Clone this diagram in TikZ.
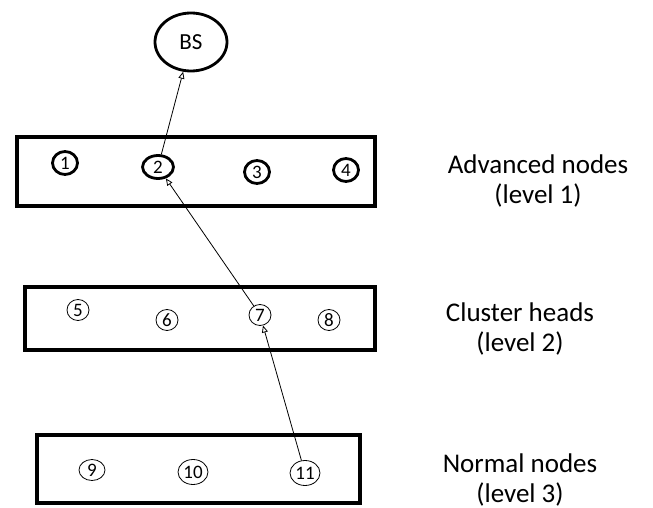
\documentclass[tikz,border=0pt]{standalone}
\usepackage{fontspec}
\setmainfont{Carlito}
\usetikzlibrary{arrows.meta,shapes.geometric,positioning}
\begin{document}
\begin{tikzpicture}[x=1pt, y=-1pt]
  % Define styles
  \tikzstyle{layer}=[rectangle, draw=black, line width=4pt, inner sep=0pt]
  \tikzstyle{adv}=[ellipse, draw=black, line width=2.8pt, minimum width=25pt, minimum height=23pt, inner sep=0pt, font=\fontsize{19}{19}\selectfont]
  \tikzstyle{plain}=[ellipse, draw=black, line width=0.8pt, minimum width=22pt, minimum height=21pt, inner sep=0pt, font=\fontsize{19}{19}\selectfont]
  \tikzstyle{up}=[-{Triangle[open, length=7pt, width=6pt]}, line width=0.8pt]
  \tikzstyle{caption}=[align=center, font=\fontsize{27}{30}\selectfont]

  \useasboundingbox (0,0) rectangle (653,508);

  % Layers
  \node[layer, minimum width=358pt, minimum height=69pt] (box1) at (196,171.5) {};
  \node[layer, minimum width=350pt, minimum height=63pt] (box2) at (200,318.5) {};
  \node[layer, minimum width=323pt, minimum height=68pt] (box3) at (198.5,469) {};

  % Base station
  \node[ellipse, draw=black, line width=2.8pt, minimum width=72pt, minimum height=58pt, inner sep=0pt, font=\fontsize{23}{23}\selectfont] (bs) at (191,42) {BS};

  % Advanced nodes
  \node[adv] (n1) at (65,163) {1};
  \node[adv, minimum width=31pt] (n2) at (158,167) {2};
  \node[adv] (n3) at (257,172) {3};
  \node[adv] (n4) at (346,170) {4};

  % Cluster heads
  \node[plain] (n5) at (78,310) {5};
  \node[plain] (n6) at (167,320) {6};
  \node[plain] (n7) at (260,315) {7};
  \node[plain] (n8) at (329,320) {8};

  % Normal nodes
  \node[plain, minimum width=26pt] (n9) at (92,470) {9};
  \node[plain, minimum width=30pt, minimum height=25pt] (n10) at (193,472) {10};
  \node[plain, minimum width=30pt, minimum height=25pt] (n11) at (305,473) {11};

  % Labels
  \node[caption] (cap1) at (538,181) {Advanced nodes\\(level 1)};
  \node[caption] (cap2) at (520,329) {Cluster heads\\(level 2)};
  \node[caption] (cap3) at (520,480) {Normal nodes\\(level 3)};

  % Path to the base station
  \draw[up] (n2) -- (bs);
  \draw[up] (n7) -- (n2);
  \draw[up] (n11) -- (n7);
\end{tikzpicture}
\end{document}
